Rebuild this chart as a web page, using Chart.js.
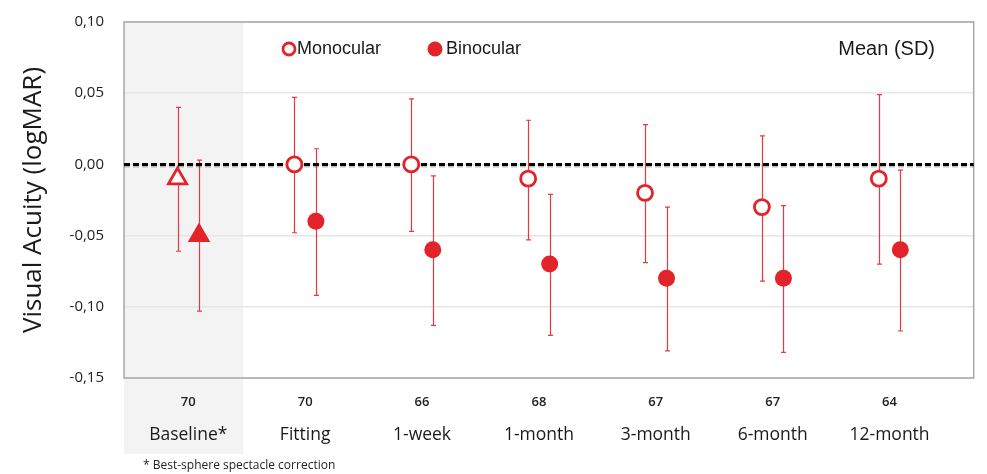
<!DOCTYPE html>
<html>
<head>
<meta charset="utf-8">
<script src="https://cdn.jsdelivr.net/npm/chart.js@4.4.1/dist/chart.umd.min.js"></script>
<style>
  html, body { margin: 0; padding: 0; background: #fff; }
  #wrap { width: 987px; height: 474px; position: relative; }
</style>
</head>
<body>
<div id="wrap"><canvas id="c" width="987" height="474"></canvas></div>
<script>
// ---- data ----
const categories = ['Baseline*', 'Fitting', '1-week', '1-month', '3-month', '6-month', '12-month'];
const nValues = [70, 70, 66, 68, 67, 67, 64];
const monoMean = [-0.01, 0.00, 0.00, -0.01, -0.02, -0.03, -0.01];
const monoHigh = [0.040, 0.047, 0.046, 0.031, 0.028, 0.020, 0.049];
const monoLow  = [-0.061, -0.048, -0.047, -0.053, -0.069, -0.082, -0.070];
const binoMean = [-0.05, -0.04, -0.06, -0.07, -0.08, -0.08, -0.06];
const binoHigh = [0.003, 0.011, -0.008, -0.021, -0.030, -0.029, -0.004];
const binoLow  = [-0.103, -0.092, -0.113, -0.120, -0.131, -0.132, -0.117];
const yTicks = [0.10, 0.05, 0.00, -0.05, -0.10, -0.15];
const seriesLabels = ['Monocular', 'Binocular'];
const footnote = '* Best-sphere spectacle correction';
const cornerNote = 'Mean (SD)';

// ---- style ----
const RED = '#e3232a';
const BAR = '#e53a3f';
const SHIFT = 0.092;
const X_MIN = -0.55, X_MAX = 6.72, SHADE_END = 0.47;
const fmt = v => v.toFixed(2).replace('.', ',');

const monoData = monoMean.map((v, i) => ({ x: i - SHIFT, y: v, lo: monoLow[i], hi: monoHigh[i] }));
const binoData = binoMean.map((v, i) => ({ x: i + SHIFT, y: v, lo: binoLow[i], hi: binoHigh[i] }));

const decor = {
  id: 'decor',
  beforeDraw(chart) {
    const { ctx, chartArea: a, scales: { x } } = chart;
    ctx.save();
    ctx.fillStyle = '#fff';
    ctx.fillRect(0, 0, chart.width, chart.height);
    ctx.fillStyle = '#f3f3f3';
    const x1 = x.getPixelForValue(SHADE_END);
    ctx.fillRect(a.left, a.top, x1 - a.left, 454 - a.top);
    ctx.restore();
  },
  beforeDatasetsDraw(chart) {
    const { ctx, chartArea: a, scales: { x, y } } = chart;
    ctx.save();
    // frame
    ctx.strokeStyle = '#a8a8a8';
    ctx.lineWidth = 1.5;
    ctx.strokeRect(a.left, a.top, a.right - a.left, a.bottom - a.top);
    // error bars
    ctx.strokeStyle = BAR;
    ctx.lineWidth = 1.2;
    chart.data.datasets.forEach(ds => {
      ds.data.forEach(p => {
        const px = Math.round(x.getPixelForValue(p.x)) + 0.5;
        const yt = y.getPixelForValue(p.hi), yb = y.getPixelForValue(p.lo);
        ctx.beginPath();
        ctx.moveTo(px, yt); ctx.lineTo(px, yb);
        ctx.moveTo(px - 2.5, yt); ctx.lineTo(px + 2.5, yt);
        ctx.moveTo(px - 2.5, yb); ctx.lineTo(px + 2.5, yb);
        ctx.stroke();
      });
    });
    // zero reference line
    const y0 = y.getPixelForValue(0);
    ctx.strokeStyle = 'rgba(0,0,0,0.25)';
    ctx.lineWidth = 3;
    ctx.setLineDash([6, 3]);
    ctx.beginPath(); ctx.moveTo(a.left, y0 + 1.5); ctx.lineTo(a.right, y0 + 1.5); ctx.stroke();
    ctx.strokeStyle = '#000';
    ctx.beginPath(); ctx.moveTo(a.left, y0); ctx.lineTo(a.right, y0); ctx.stroke();
    ctx.restore();
  },
  afterDatasetsDraw(chart) {
    const { ctx } = chart;
    ctx.save();
    // legend
    ctx.textBaseline = 'middle';
    ctx.textAlign = 'left';
    ctx.font = '18px "Liberation Sans", Arial, sans-serif';
    const ly = 49;
    ctx.beginPath(); ctx.arc(289, ly, 6, 0, Math.PI * 2);
    ctx.fillStyle = '#fff'; ctx.fill();
    ctx.lineWidth = 2.8; ctx.strokeStyle = RED; ctx.stroke();
    ctx.fillStyle = '#1a1a1a';
    ctx.fillText(seriesLabels[0], 297, ly);
    ctx.beginPath(); ctx.arc(435, ly, 7.5, 0, Math.PI * 2);
    ctx.fillStyle = RED; ctx.fill();
    ctx.fillStyle = '#1a1a1a';
    ctx.fillText(seriesLabels[1], 446, ly);
    // corner note
    ctx.font = '20px "Liberation Sans", Arial, sans-serif';
    ctx.textAlign = 'right';
    ctx.fillText(cornerNote, 935, ly);
    // footnote
    ctx.font = '12px "Open Sans", sans-serif';
    ctx.textAlign = 'left';
    ctx.fillStyle = '#222';
    ctx.fillText(footnote, 143, 466);
    ctx.restore();
  }
};

const catAxisBase = {
  type: 'linear',
  position: 'bottom',
  min: X_MIN,
  max: X_MAX,
  grid: { display: false, drawTicks: false },
  border: { display: false },
  afterBuildTicks(s) { s.ticks = categories.map((c, i) => ({ value: i })); }
};

new Chart(document.getElementById('c'), {
  type: 'scatter',
  data: {
    datasets: [
      {
        label: seriesLabels[0],
        data: monoData,
        pointStyle: categories.map((c, i) => i === 0 ? 'triangle' : 'circle'),
        pointRadius: categories.map((c, i) => i === 0 ? 10.5 : 7.5),
        pointBorderWidth: 2.8,
        pointBackgroundColor: '#fff',
        pointBorderColor: RED,
        showLine: false
      },
      {
        label: seriesLabels[1],
        data: binoData,
        pointStyle: categories.map((c, i) => i === 0 ? 'triangle' : 'circle'),
        pointRadius: categories.map((c, i) => i === 0 ? 13 : 8.5),
        pointBorderWidth: 0,
        pointBackgroundColor: RED,
        pointBorderColor: RED,
        showLine: false
      }
    ]
  },
  options: {
    responsive: false,
    animation: false,
    layout: { padding: { top: 22, right: 8, left: 0, bottom: 0 } },
    plugins: { legend: { display: false }, tooltip: { enabled: false } },
    scales: {
      x: Object.assign({}, catAxisBase, {
        weight: 0,
        ticks: {
          padding: 16,
          color: '#222',
          font: { family: '"Open Sans", sans-serif', size: 13, weight: 600 },
          callback: (v, i) => String(nValues[i])
        },
        afterFit(s) { s.height = 42; s.paddingLeft = 0; s.paddingRight = 0; }
      }),
      x2: Object.assign({}, catAxisBase, {
        weight: 1,
        ticks: {
          padding: 5,
          color: '#1a1a1a',
          font: { family: '"Open Sans", sans-serif', size: 17.5 },
          callback: (v, i) => categories[i]
        },
        afterFit(s) { s.height = 54; s.paddingLeft = 0; s.paddingRight = 0; }
      }),
      y: {
        min: -0.15,
        max: 0.10,
        afterBuildTicks(s) { s.ticks = yTicks.map(v => ({ value: v })); },
        grid: { color: '#e6e6e6', lineWidth: 1.5, drawTicks: false },
        border: { display: false },
        ticks: {
          padding: 20,
          color: '#222',
          font: { family: '"Open Sans", sans-serif', size: 15 },
          callback: v => fmt(v)
        },
        title: {
          display: true,
          text: 'Visual Acuity (logMAR)',
          color: '#1a1a1a',
          font: { family: '"Open Sans", sans-serif', size: 26 },
          padding: { top: 18, bottom: 0 }
        },
        afterFit(s) { s.width = 124; s.paddingTop = 0; s.paddingBottom = 0; }
      }
    }
  },
  plugins: [decor]
});
</script>
</body>
</html>
